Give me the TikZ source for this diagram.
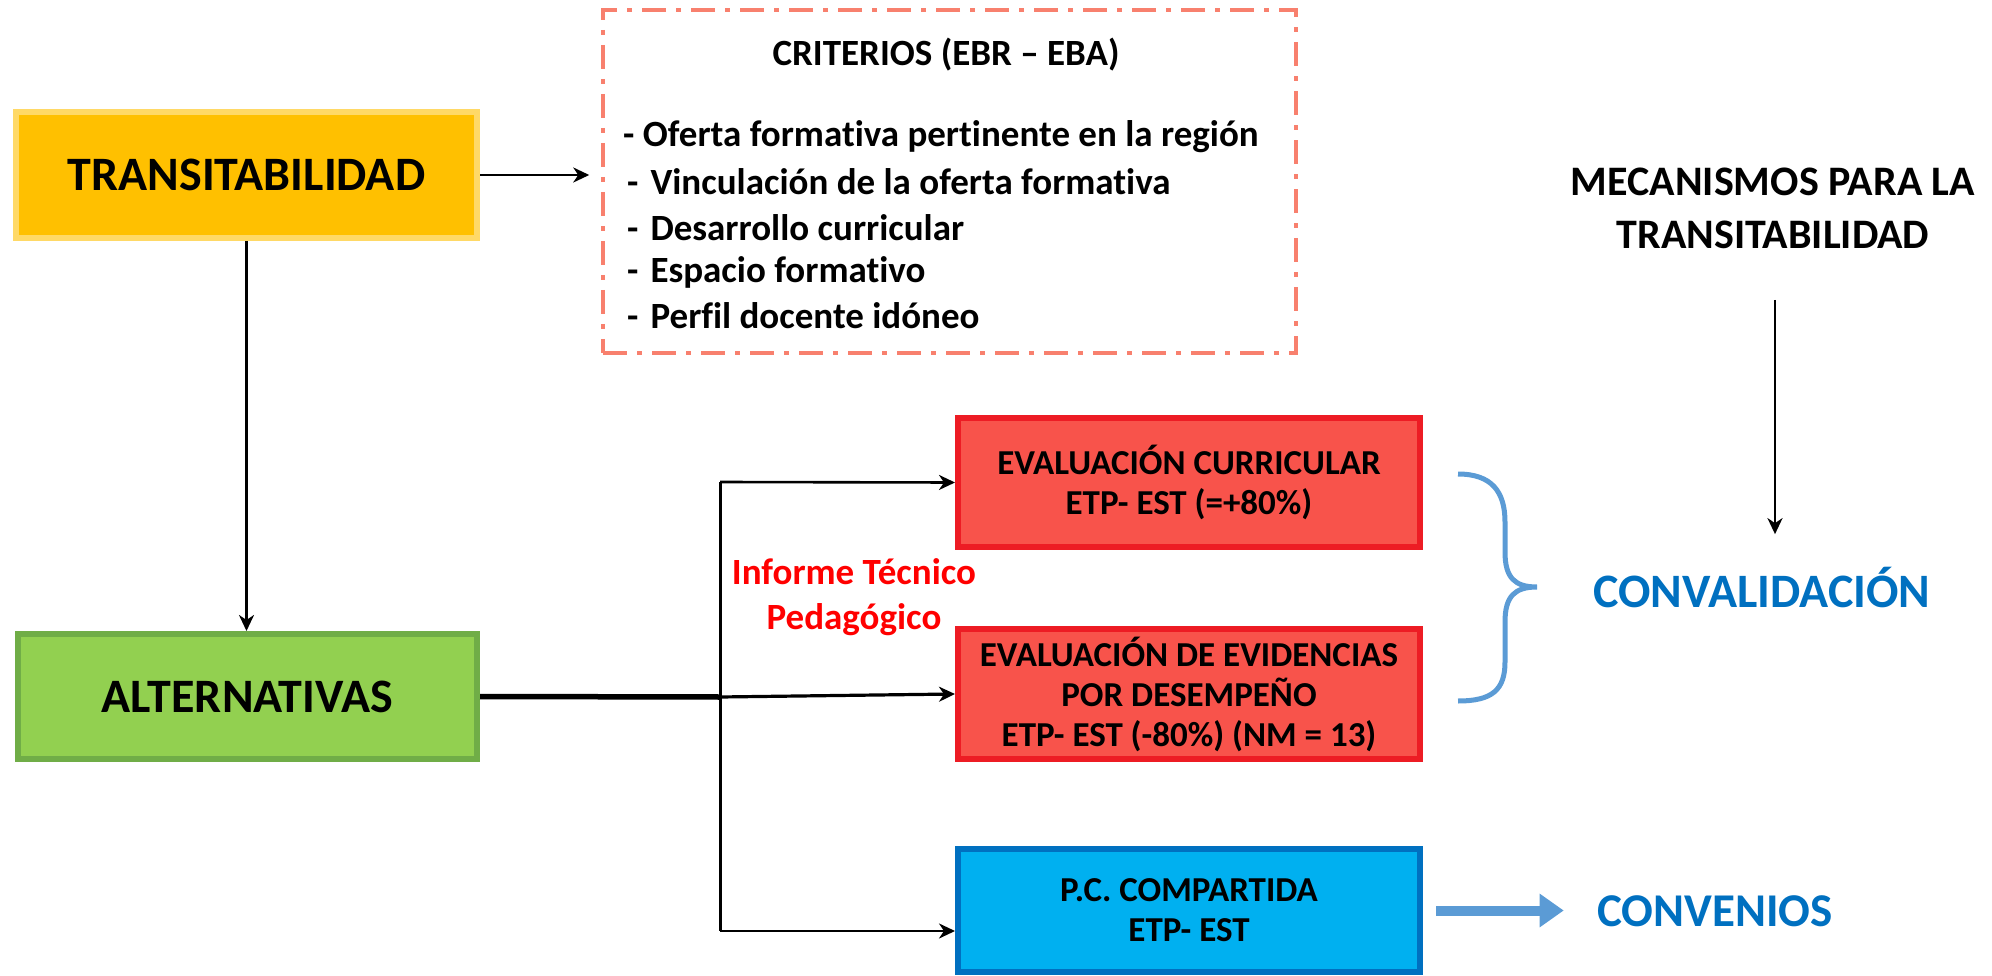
\documentclass[tikz,border=0pt]{standalone}
\usepackage{fontspec}
\setmainfont{Carlito}[Ligatures=NoCommon]
\usetikzlibrary{arrows.meta}
\definecolor{yelF}{HTML}{FFC000}
\definecolor{yelB}{HTML}{FFD966}
\definecolor{grnF}{HTML}{92D050}
\definecolor{grnB}{HTML}{70AD47}
\definecolor{redF}{HTML}{F8534B}
\definecolor{redB}{HTML}{ED1C24}
\definecolor{bluF}{HTML}{00B0F0}
\definecolor{bluB}{HTML}{0070C0}
\definecolor{salm}{HTML}{F8806E}
\definecolor{brc}{HTML}{5B9BD5}
\definecolor{txtblue}{HTML}{0070C0}
\begin{document}
\begin{tikzpicture}[x=1pt,y=-1pt,
  box/.style={draw, line width=6pt, inner sep=0pt, align=center},
  bigtxt/.style={font=\bfseries\fontsize{48}{56}\selectfont},
  evtxt/.style={font=\bfseries\fontsize{35}{40}\selectfont},
  crittxt/.style={font=\bfseries\fontsize{37}{44}\selectfont, inner sep=0pt},
  arr/.style={-{Stealth[length=16pt,width=15pt,inset=5pt]}, line width=2.6pt},
]
\useasboundingbox (0,0) rectangle (1992,976);

% main boxes
\node[box, bigtxt, fill=yelF, draw=yelB, minimum width=461pt, minimum height=126pt] (tr) at (246.5,175) {TRANSITABILIDAD};
\node[box, bigtxt, fill=grnF, draw=grnB, minimum width=459pt, minimum height=125pt] (alt) at (247.5,696.5) {ALTERNATIVAS};

% criterios box
\node[draw=salm, line width=3.5pt, dash pattern=on 24pt off 10pt on 5pt off 10pt, minimum width=693pt, minimum height=343pt, inner sep=0pt] (crit) at (949.5,181.5) {};
\node[crittxt] (ct) at (946,55) {CRITERIOS (EBR -- EBA)};
\node[crittxt, anchor=west] (c1) at (623,137) {- Oferta formativa pertinente en la región};
\node[crittxt, anchor=west] (c2) at (627,182) {-\hspace{12pt}Vinculación de la oferta formativa};
\node[crittxt, anchor=west] (c3) at (627,228) {-\hspace{12pt}Desarrollo curricular};
\node[crittxt, anchor=west] (c4) at (627,272) {-\hspace{12pt}Espacio formativo};
\node[crittxt, anchor=west] (c5) at (627,316) {-\hspace{12pt}Perfil docente idóneo};

% evaluation boxes
\node[box, evtxt, fill=redF, draw=redB, minimum width=462pt, minimum height=129pt] (e1) at (1189,482.5) {EVALUACIÓN CURRICULAR\\ETP- EST (=+80\%)};
\node[box, evtxt, fill=redF, draw=redB, minimum width=462pt, minimum height=130pt] (e2) at (1189,694) {EVALUACIÓN DE EVIDENCIAS\\POR DESEMPEÑO\\ETP- EST (-80\%) (NM = 13)};
\node[box, evtxt, fill=bluF, draw=bluB, minimum width=462pt, minimum height=123pt] (e3) at (1189,910.5) {P.C. COMPARTIDA\\ETP- EST};

% labels
\node[font=\bfseries\fontsize{37}{45}\selectfont, text=red, align=center] (inf) at (854,597) {Informe Técnico\\Pedagógico};
\node[font=\bfseries\fontsize{42}{53}\selectfont, align=center] (mec) at (1773,208) {MECANISMOS PARA LA\\TRANSITABILIDAD};
\node[font=\bfseries\fontsize{48}{54}\selectfont, text=txtblue] (conv) at (1762,588) {CONVALIDACIÓN};
\node[font=\bfseries\fontsize{47}{54}\selectfont, text=txtblue] (cvn) at (1715,911) {CONVENIOS};

% connectors
\draw[arr, shorten >=12pt] (tr.east) -- (crit.west |- tr.east);
\draw[arr] (tr.south) -- (tr.south |- alt.north);

\coordinate (j) at (720,697);
\coordinate (jt) at (720,482);
\coordinate (jb) at (720,931);
\draw[line width=5.5pt] (alt.east) -- (j);
\draw[arr, line width=3.2pt] (j) -- (e2.west);
\draw[line width=3pt] (jt) -- (jb);
\draw[arr] (jt) -- (e1.west);
\draw[arr] (jb) -- (e3.west |- jb);

\draw[arr, shorten <=48pt, shorten >=30pt] (mec.south -| 1775,0) -- (conv.north -| 1775,0);

% brace
\draw[brc, line width=5pt] (1458,474) .. controls (1492,474) and (1505,492) .. (1505,522) -- (1505,552) .. controls (1505,578) and (1515,587) .. (1537,587) .. controls (1515,587) and (1505,596) .. (1505,622) -- (1505,662) .. controls (1505,690) and (1492,701) .. (1458,701);

% blue arrow
\draw[brc, line width=10pt, -{Triangle[length=24pt,width=32pt]}, shorten <=13pt, shorten >=30pt] (e3.east) -- (cvn.west |- e3.east);
\end{tikzpicture}
\end{document}
